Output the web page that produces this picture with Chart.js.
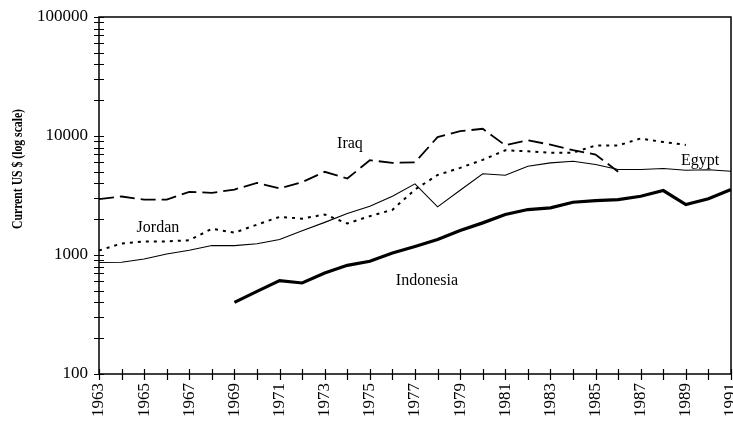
<!DOCTYPE html>
<html>
<head>
<meta charset="utf-8">
<title>Current US $ (log scale)</title>
<script src="https://cdn.jsdelivr.net/npm/chart.js@4/dist/chart.umd.min.js"></script>
<style>
  html, body { margin: 0; padding: 0; background: #fff; }
  #wrap { width: 733px; height: 421px; }
</style>
</head>
<body>
<div id="wrap"><canvas id="c" width="733" height="421"></canvas></div>
<script>
// Years on the horizontal axis
const years = [];
for (let y = 1963; y <= 1991; y++) years.push(String(y));

// Series values, current US $ per year (null = no data)
const egypt = [865, 868, 925, 1020, 1095, 1200, 1200, 1245, 1350, 1600,
  1880, 2230, 2570, 3120, 3960, 2540, 3500, 4810, 4680, 5570,
  5950, 6140, 5760, 5230, 5230, 5330, 5150, 5200, 5050];

const iraq = [2950, 3100, 2920, 2920, 3390, 3330, 3550, 4040, 3620, 4090,
  5000, 4390, 6260, 5950, 6000, 9800, 10970, 11500, 8350, 9220,
  8450, 7600, 6990, 5000, null, null, null, null, null];

const jordan = [1090, 1250, 1300, 1300, 1330, 1660, 1540, 1800, 2090, 2020,
  2190, 1840, 2120, 2400, 3550, 4700, 5400, 6300, 7580, 7450,
  7220, 7250, 8320, 8320, 9530, 8900, 8420, null, null];

const indonesia = [null, null, null, null, null, null, 400, 495, 609, 582,
  707, 819, 885, 1041, 1180, 1348, 1604, 1862, 2187, 2409,
  2490, 2775, 2868, 2924, 3117, 3480, 2654, 2965, 3548];

// Log-axis tick marks and the ones that carry a label
const yTickValues = [];
for (const d of [100, 1000, 10000]) {
  for (let m = 1; m <= 9; m++) yTickValues.push(m * d);
}
yTickValues.push(100000);
const yLabelled = [100, 1000, 10000, 100000];

// Series name labels: [text, year index, value at baseline]
const seriesLabels = [
  ['Iraq', 11.12, 8000],
  ['Jordan', 2.61, 1574],
  ['Egypt', 26.63, 5755],
  ['Indonesia', 14.53, 564]
];

const axisTitle = 'Current US $ (log scale)';
const serif = "'Liberation Serif', 'Times New Roman', serif";

// Frame, crossing tick marks, series names and the vertical axis title
const decorations = {
  id: 'decorations',
  afterDatasetsDraw(chart) {
    const { ctx, chartArea: a, scales: { x, y } } = chart;
    ctx.save();
    ctx.strokeStyle = '#000';
    ctx.lineWidth = 1.5;
    ctx.strokeRect(a.left, a.top, a.right - a.left, a.bottom - a.top);

    ctx.lineWidth = 1.2;
    ctx.beginPath();
    x.ticks.forEach((t, i) => {
      const px = Math.round(x.getPixelForTick(i)) + 0.5;
      ctx.moveTo(px, a.bottom - 5);
      ctx.lineTo(px, a.bottom + 6);
    });
    y.ticks.forEach(t => {
      const py = Math.round(y.getPixelForValue(t.value)) + 0.5;
      ctx.moveTo(a.left - 5, py);
      ctx.lineTo(a.left + 5, py);
    });
    ctx.stroke();

    ctx.fillStyle = '#000';
    ctx.font = '16px ' + serif;
    ctx.textAlign = 'center';
    ctx.textBaseline = 'alphabetic';
    seriesLabels.forEach(([txt, xi, v]) => {
      ctx.fillText(txt, x.getPixelForValue(xi), y.getPixelForValue(v));
    });

    // vertical title: slightly condensed along its length, wider across
    ctx.translate(18, 169);
    ctx.rotate(-Math.PI / 2);
    ctx.scale(0.9, 1.15);
    ctx.font = 'bold 13px ' + serif;
    ctx.textBaseline = 'middle';
    ctx.fillText(axisTitle, 0, 0);
    ctx.restore();
  }
};

new Chart(document.getElementById('c'), {
  type: 'line',
  data: {
    labels: years,
    datasets: [
      { label: 'Egypt', data: egypt, borderColor: '#000', borderWidth: 1.1 },
      { label: 'Iraq', data: iraq, borderColor: '#000', borderWidth: 1.8, borderDash: [15, 6] },
      { label: 'Jordan', data: jordan, borderColor: '#000', borderWidth: 2, borderDash: [3, 5] },
      { label: 'Indonesia', data: indonesia, borderColor: '#000', borderWidth: 3.2 }
    ]
  },
  options: {
    responsive: false,
    animation: false,
    layout: { padding: { top: 17, right: 2, left: 0, bottom: 0 } },
    elements: {
      point: { radius: 0, hoverRadius: 0 },
      line: { tension: 0, fill: false, borderCapStyle: 'butt' }
    },
    plugins: { legend: { display: false }, tooltip: { enabled: false } },
    scales: {
      x: {
        type: 'category',
        offset: false,
        grid: { display: false, drawTicks: true, tickLength: 6 },
        border: { display: false },
        ticks: {
          autoSkip: false,
          minRotation: 90,
          maxRotation: 90,
          padding: 3,
          color: '#000',
          font: { family: serif, size: 17 },
          callback: (v, i) => (i % 2 === 0 ? years[i] : '')
        },
        afterFit: s => { s.height = 47; s.paddingLeft = 0; s.paddingRight = 0; }
      },
      y: {
        type: 'logarithmic',
        min: 100,
        max: 100000,
        grid: { display: false, drawTicks: true, tickLength: 6 },
        border: { display: false },
        afterBuildTicks: s => { s.ticks = yTickValues.map(v => ({ value: v })); },
        ticks: {
          autoSkip: false,
          padding: 5,
          color: '#000',
          font: { family: serif, size: 17 },
          callback: v => (yLabelled.includes(v) ? String(v) : '')
        },
        afterFit: s => { s.width = 99; s.paddingTop = 0; s.paddingBottom = 0; }
      }
    }
  },
  plugins: [decorations]
});
</script>
</body>
</html>
